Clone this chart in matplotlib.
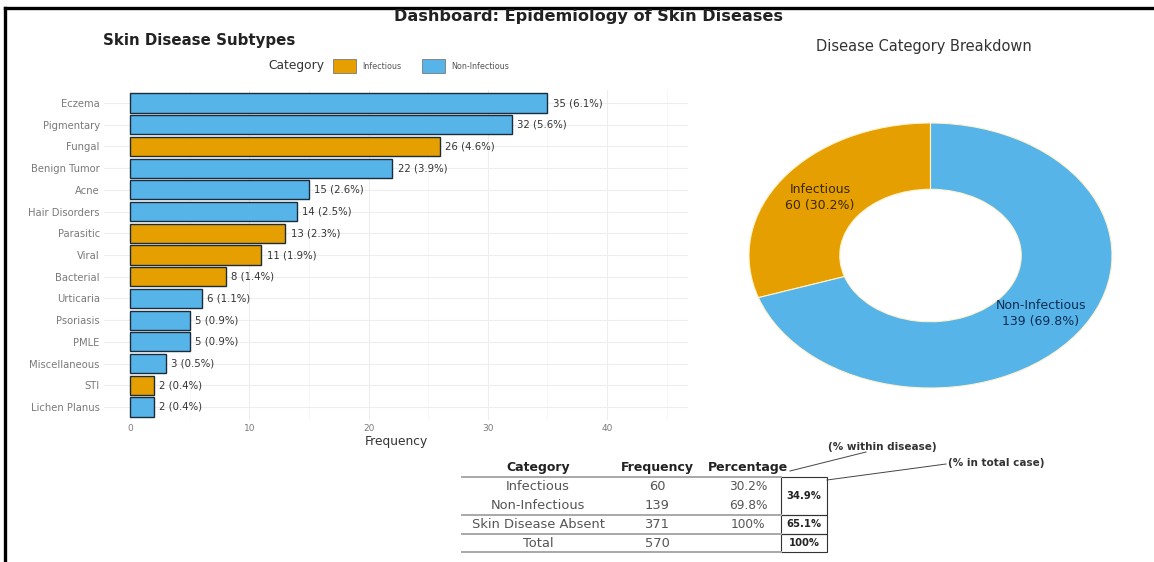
import numpy as np
import matplotlib.pyplot as plt
from matplotlib.patches import Patch, Rectangle

plt.rcParams['font.family'] = ['DejaVu Sans']

# bar chart data
subtypes = ['Eczema', 'Pigmentary', 'Fungal', 'Benign Tumor', 'Acne', 'Hair Disorders',
            'Parasitic', 'Viral', 'Bacterial', 'Urticaria', 'Psoriasis', 'PMLE',
            'Miscellaneous', 'STI', 'Lichen Planus']
counts = [35, 32, 26, 22, 15, 14, 13, 11, 8, 6, 5, 5, 3, 2, 2]
groups = ['Non-Infectious', 'Non-Infectious', 'Infectious', 'Non-Infectious', 'Non-Infectious',
          'Non-Infectious', 'Infectious', 'Infectious', 'Infectious', 'Non-Infectious',
          'Non-Infectious', 'Non-Infectious', 'Non-Infectious', 'Infectious', 'Non-Infectious']
total_cases = 570

# donut data
donut_labels = ['Infectious', 'Non-Infectious']
donut_counts = [60, 139]

# table data
table_cats = ['Infectious', 'Non-Infectious', 'Skin Disease Absent', 'Total']
table_freq = [60, 139, 371, 570]
table_pct = ['30.2%', '69.8%', '100%', '']
box_pct = ['34.9%', '65.1%', '100%']

colors = {'Infectious': '#E69F00', 'Non-Infectious': '#56B4E9'}

W, H = 1154, 562
fig = plt.figure(figsize=(W / 100, H / 100), dpi=100)


def fx(x):
    return x / W


def fy(y):
    return 1 - y / H


# overlay axes in pixel coords for border / table
ov = fig.add_axes([0, 0, 1, 1])
ov.set_xlim(0, W)
ov.set_ylim(H, 0)
ov.axis('off')
ov.plot([5, W], [8, 8], color='black', lw=2.4)
ov.plot([5, 5], [8, H], color='black', lw=2.4)

fig.text(fx(589), fy(17), 'Dashboard: Epidemiology of Skin Diseases', ha='center', va='center',
         fontsize=11.6, fontweight='bold', color='#222222')
fig.text(fx(103), fy(40), 'Skin Disease Subtypes', ha='left', va='center',
         fontsize=10.8, fontweight='bold', color='#222222')

# ---- bar chart
ax = fig.add_axes([fx(104), fy(420), (688 - 104) / W, (420 - 90) / H])
ypos = np.arange(len(subtypes))
bar_cols = [colors[g] for g in groups]
ax.barh(ypos, counts, height=0.88, color=bar_cols, edgecolor='#1c2b3a', linewidth=1.0, zorder=3)
for y, c in zip(ypos, counts):
    ax.text(c + 0.45, y, f'{c} ({c / total_cases * 100:.1f}%)', va='center', ha='left',
            fontsize=7.3, color='#333333', zorder=4)
ax.set_ylim(len(subtypes) - 0.4, -0.6)
ax.set_xlim(-2.2, 46.8)
ax.set_xticks([0, 10, 20, 30, 40])
ax.set_xticks([5, 15, 25, 35, 45], minor=True)
ax.set_yticks(ypos)
ax.set_yticklabels(subtypes)
ax.grid(which='major', color='#ededed', lw=0.8)
ax.grid(which='minor', axis='x', color='#f4f4f4', lw=0.5)
ax.set_axisbelow(True)
for s in ax.spines.values():
    s.set_visible(False)
ax.tick_params(which='both', length=0, labelsize=6.5, labelcolor='#7a7a7a', pad=3)
ax.tick_params(axis='y', labelsize=7.2)
ax.set_xlabel('Frequency', fontsize=8.8, color='#333333', labelpad=1)

fig.text(fx(268), fy(66), 'Category', ha='left', va='center', fontsize=8.8, color='#333333')
handles = [Patch(facecolor=colors[k], edgecolor='#7a7a7a', lw=0.6) for k in donut_labels]
fig.legend(handles, donut_labels, loc='center left', bbox_to_anchor=(fx(333), fy(66)), ncol=2,
           frameon=False, fontsize=5.8, handlelength=2.8, handleheight=2.2, handletextpad=0.8,
           columnspacing=2.6, borderaxespad=0, borderpad=0, labelcolor='#555555')

# ---- donut
fig.text(fx(924), fy(46), 'Disease Category Breakdown', ha='center', va='center',
         fontsize=10.5, color='#333333')
dax = fig.add_axes([fx(749), fy(388), 363 / W, 265 / H])
dtot = sum(donut_counts)
dlabels = [f'{n}\n{c} ({c / dtot * 100:.1f}%)' for n, c in zip(donut_labels, donut_counts)]
wedges, texts = dax.pie(donut_counts, colors=[colors[k] for k in donut_labels], startangle=90,
                        counterclock=True, radius=1,
                        wedgeprops=dict(width=0.5, edgecolor='#fff2cc', linewidth=0.8),
                        labels=dlabels, labeldistance=0.75,
                        textprops=dict(ha='center', va='center', fontsize=9, linespacing=1.3))
texts[0].set_color('#3a2800')
texts[1].set_color('#0e2d52')
dax.set_aspect('auto')
dax.set_xlim(-1, 1)
dax.set_ylim(-1, 1)

# ---- summary table
col_x = [538, 657, 748]
header_y = 468
row_y = [487 + 18.7 * i for i in range(len(table_cats))]
for x, h in zip(col_x, ['Category', 'Frequency', 'Percentage']):
    ov.text(x, header_y, h, ha='center', va='center', fontsize=9, fontweight='bold', color='#222222')
for i, (cat, f, p) in enumerate(zip(table_cats, table_freq, table_pct)):
    ov.text(col_x[0], row_y[i], cat, ha='center', va='center', fontsize=9.4, color='#555555')
    ov.text(col_x[1], row_y[i], str(f), ha='center', va='center', fontsize=9.4, color='#555555')
    ov.text(col_x[2], row_y[i], p, ha='center', va='center', fontsize=8.7, color='#555555')

rules = [477, 514.5, 533.5, 552]
for r in rules:
    ov.plot([462, 781], [r, r], color='#a8a8a8', lw=1.4)

box_top = [477, 514.5, 533.5]
box_bot = [514.5, 533.5, 552]
for t, b, txt in zip(box_top, box_bot, box_pct):
    ov.add_patch(Rectangle((781, t), 46, b - t, fill=False, edgecolor='#333333', lw=0.8))
    ov.text(804, (t + b) / 2, txt, ha='center', va='center', fontsize=7.2, fontweight='bold',
            color='#222222')

ov.plot([790, 866], [471, 452], color='#444444', lw=0.7)
ov.text(828, 447, '(% within disease)', ha='left', va='center', fontsize=7.5, fontweight='bold',
        color='#333333')
ov.plot([827, 946], [480, 464], color='#444444', lw=0.7)
ov.text(948, 463, '(% in total case)', ha='left', va='center', fontsize=7.5, fontweight='bold',
        color='#333333')

fig.savefig('out.png', dpi=100)
